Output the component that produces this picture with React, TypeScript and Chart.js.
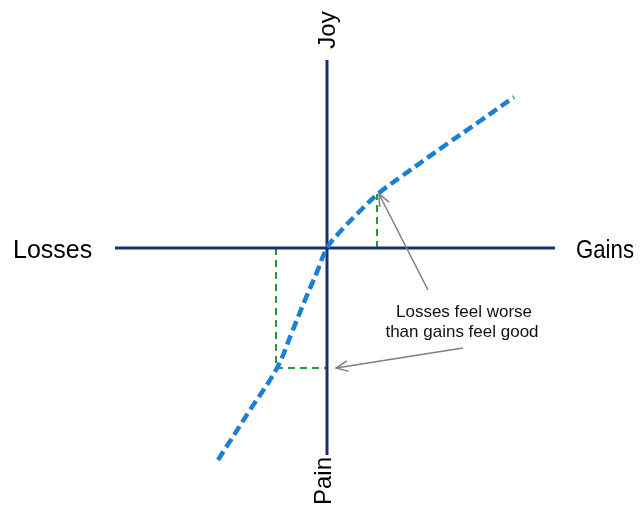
import React, { useEffect, useRef } from "react";
import { Chart, registerables } from "chart.js";

Chart.register(...registerables);

// Value function (prospect theory), units: outcome (x) vs. feeling (y)
const curveX = [-109, -77, -50, -35, -22, -10, 0, 11, 31, 52, 75, 120, 153, 187];
const curveY = [-212, -162, -120, -84, -52, -24, 0, 14, 35, 55, 72, 104, 127, 151];

// Axis extents
const xAxisRange = [-212, 228];
const yAxisRange = [-207, 188];

// Equal-size gain and loss and the feelings they produce
const gainX = 50;
const gainY = 54;
const lossX = -51;
const lossY = -120;

const axisLabels = ["Losses", "Gains", "Joy", "Pain"];
const noteLines = ["Losses feel worse", "than gains feel good"];

const NAVY = "#1a2f72";
const BLUE = "#1a7fd6";
const GREEN = "#1f9a40";
const GREY = "#7f7f7f";

export default function App() {
  const ref = useRef<HTMLCanvasElement | null>(null);

  useEffect(() => {
    if (!ref.current) return;
    const annot = {
      id: "annot",
      afterDatasetsDraw(chart: any) {
        const ctx = chart.ctx;
        const xs = chart.scales.x;
        const ys = chart.scales.y;
        const px = (v: number) => xs.getPixelForValue(v);
        const py = (v: number) => ys.getPixelForValue(v);
        ctx.save();
        ctx.fillStyle = "#000";
        ctx.font = '25px "Liberation Sans", Arial, sans-serif';
        ctx.textBaseline = "alphabetic";
        ctx.textAlign = "left";
        ctx.fillText(axisLabels[0], 13, 258);
        ctx.fillText(axisLabels[1], 576, 258, 58);
        // rotated labels
        ctx.font = '24px "Liberation Sans", Arial, sans-serif';
        ctx.textAlign = "center";
        ctx.save();
        ctx.translate(px(0) + 8, 30);
        ctx.rotate(-Math.PI / 2);
        ctx.fillText(axisLabels[2], 0, 0);
        ctx.restore();
        ctx.save();
        ctx.translate(px(0) + 4, 481);
        ctx.rotate(-Math.PI / 2);
        ctx.fillText(axisLabels[3], 0, 0);
        ctx.restore();
        // note
        ctx.font = '17px "Liberation Sans", Arial, sans-serif';
        ctx.fillStyle = "#111";
        ctx.fillText(noteLines[0], px(137), py(-69));
        ctx.fillText(noteLines[1], px(135), py(-89));
        // arrows
        const arrow = (x1: number, y1: number, x2: number, y2: number) => {
          ctx.strokeStyle = GREY;
          ctx.lineWidth = 1.5;
          ctx.beginPath();
          ctx.moveTo(x1, y1);
          ctx.lineTo(x2, y2);
          ctx.stroke();
          const a = Math.atan2(y2 - y1, x2 - x1);
          const L = 13;
          const s = 0.42;
          ctx.beginPath();
          ctx.moveTo(x2 - L * Math.cos(a - s), y2 - L * Math.sin(a - s));
          ctx.lineTo(x2, y2);
          ctx.lineTo(x2 - L * Math.cos(a + s), y2 - L * Math.sin(a + s));
          ctx.stroke();
        };
        arrow(px(101), py(-42), px(gainX + 2), py(gainY));
        arrow(px(136), py(-100), px(9), py(lossY));
        ctx.restore();
      },
    };

    const chart = new Chart(ref.current, {
      type: "scatter",
      data: {
        datasets: [
          {
            data: curveX.map((x, i) => ({ x, y: curveY[i] })),
            showLine: true,
            borderColor: BLUE,
            borderWidth: 4.5,
            borderDash: [10, 5],
            pointRadius: 0,
            tension: 0.4,
            order: 1,
          },
          {
            data: [{ x: xAxisRange[0], y: 0 }, { x: xAxisRange[1], y: 0 }],
            showLine: true,
            borderColor: NAVY,
            borderWidth: 3,
            pointRadius: 0,
            order: 2,
          },
          {
            data: [{ x: 0, y: yAxisRange[0] }, { x: 0, y: yAxisRange[1] }],
            showLine: true,
            borderColor: NAVY,
            borderWidth: 3,
            pointRadius: 0,
            order: 2,
          },
          {
            data: [{ x: gainX, y: 0 }, { x: gainX, y: gainY }],
            showLine: true,
            borderColor: GREEN,
            borderWidth: 2,
            borderDash: [7, 5],
            pointRadius: 0,
            order: 3,
          },
          {
            data: [{ x: lossX, y: 0 }, { x: lossX, y: lossY }, { x: 0, y: lossY }],
            showLine: true,
            borderColor: GREEN,
            borderWidth: 2,
            borderDash: [7, 5],
            pointRadius: 0,
            order: 3,
          },
        ],
      },
      options: {
        responsive: false,
        animation: false,
        layout: { padding: 0 },
        plugins: { legend: { display: false }, tooltip: { enabled: false } },
        scales: {
          x: { type: "linear", min: -327, max: 314, display: false },
          y: { type: "linear", min: -259, max: 248, display: false },
        },
      },
      plugins: [annot],
    } as any);
    return () => chart.destroy();
  }, []);

  return (
    <div style={{ position: "fixed", left: 0, top: 0, width: 641, height: 507, background: "#fff" }}>
      <canvas ref={ref} width={641} height={507} />
    </div>
  );
}
